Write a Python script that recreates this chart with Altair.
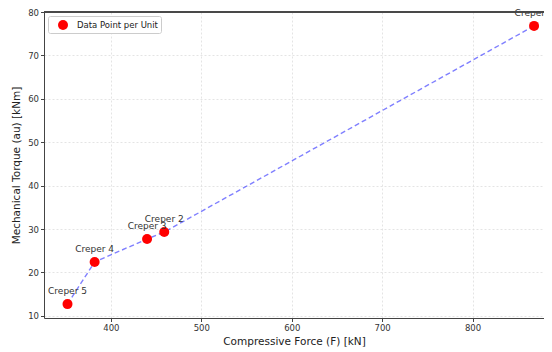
import altair as alt
import pandas as pd

labels = ["Creper 1", "Creper 2", "Creper 3", "Creper 4", "Creper 5"]
force = [868, 459, 440, 382, 352]
torque = [76.8, 29.3, 27.7, 22.4, 12.7]

df = pd.DataFrame({"label": labels, "force": force, "torque": torque,
                   "series": ["Data Point per Unit"] * len(labels)})

FONT = "DejaVu Sans"
W, H = 500, 306
xs = alt.Scale(domain=[326, 879], nice=False, zero=False)
ys = alt.Scale(domain=[9.5, 80], nice=False, zero=False)

xenc = alt.X("force:Q", scale=xs, title="Compressive Force (F) [kN]",
             axis=alt.Axis(values=[400, 500, 600, 700, 800]))
yenc = alt.Y("torque:Q", scale=ys, title="Mechanical Torque (au) [kNm]",
             axis=alt.Axis(values=[10, 20, 30, 40, 50, 60, 70, 80]))

base = alt.Chart(df)

line = base.mark_line(color="#0000ff", opacity=0.5, strokeDash=[5, 3],
                      strokeWidth=1.4).encode(x=xenc, y=yenc, order="force:Q")

points = base.mark_point(filled=True, shape="circle", size=100, opacity=1).encode(
    x=xenc, y=yenc,
    color=alt.Color("series:N", scale=alt.Scale(range=["#ff0000"]),
                    legend=alt.Legend(title=None, orient="top-left", offset=4,
                                      symbolSize=100, symbolType="circle",
                                      symbolOffset=6, labelOffset=8,
                                      labelFontSize=8.5, labelFont=FONT,
                                      labelColor="#222", fillColor="white",
                                      strokeColor="#cccccc", padding=3,
                                      cornerRadius=2, symbolOpacity=1)))

text = base.mark_text(dy=-13, fontSize=9, font=FONT, color="#333").encode(
    x=xenc, y=yenc, text="label:N")

top_spine = alt.Chart(df).mark_rule(color="#444", strokeWidth=1).encode(
    x=alt.value(0), x2=alt.value(W + 20), y=alt.value(0))

chart = alt.layer(line, points, text, top_spine).properties(
    width=W, height=H,
    autosize=alt.AutoSizeParams(type="none"),
    padding={"left": 36, "top": 4, "right": 0, "bottom": 30},
).configure_view(strokeWidth=0).configure_axis(
    labelFont=FONT, titleFont=FONT, labelFontSize=8.5, titleFontSize=10.5,
    labelColor="#333", titleColor="#222", titleFontWeight="normal",
    domainColor="#444", tickColor="#444", tickSize=3.5,
    gridColor="#dddddd", gridDash=[2, 2], gridWidth=0.8,
    labelPadding=2,
).configure_axisX(titlePadding=4).configure_axisY(titlePadding=6)

chart.save("out.html", embed_options={"renderer": "svg", "actions": False})
